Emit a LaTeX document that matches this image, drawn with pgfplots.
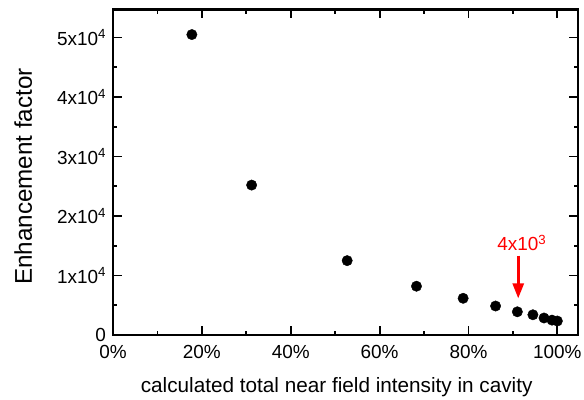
\documentclass[border=0pt]{standalone}
\usepackage{pgfplots}
\pgfplotsset{compat=1.18}
\usepackage{fontspec}
\setmainfont{Liberation Sans}
\usetikzlibrary{arrows.meta}
\begin{document}
\begin{tikzpicture}
\useasboundingbox (-113bp,-65bp) rectangle (471bp,335bp);
\begin{axis}[
  at={(0,0)}, anchor=origin,
  scale only axis, width=465bp, height=325.7bp,
  xmin=0, xmax=104.65, ymin=0, ymax=54750,
  axis line style={line width=2.5bp},
  tick style={line width=1.8bp, black},
  major tick length=9bp, minor tick length=4.5bp,
  tick align=inside,
  xtick={0,20,40,60,80,100},
  xticklabels={0\%,20\%,40\%,60\%,80\%,100\%},
  minor xtick={10,30,50,70,90},
  ytick={0,10000,20000,30000,40000,50000},
  yticklabels={0,1x10\textsuperscript{4},2x10\textsuperscript{4},3x10\textsuperscript{4},4x10\textsuperscript{4},5x10\textsuperscript{4}},
  minor ytick={5000,15000,25000,35000,45000},
  scaled y ticks=false,
  ticklabel style={font=\fontsize{19}{22}\selectfont},
  yticklabel style={xshift=-3.5bp},
  xticklabel style={yshift=-7bp},
  xlabel={calculated total near field intensity in cavity},
  ylabel={Enhancement factor},
  xlabel style={at={(axis description cs:0.481,-0.1780)}, anchor=base, font=\fontsize{20.8}{24}\selectfont},
  ylabel style={at={(axis description cs:-0.1742,0.4866)}, anchor=base, font=\fontsize{24.3}{28}\selectfont},
]
\addplot[only marks, mark=*, mark size=5.2bp, black] coordinates {
(17.75,50500) (31.2,25200) (52.7,12500) (68.3,8200) (78.8,6170)
(86.1,4870) (91.0,3900) (94.5,3400) (97.0,2860) (98.8,2500) (100,2350)
};
\draw[red, line width=2.7bp, -{Triangle[width=11bp,length=15bp]}] (axis cs:91.2,13330) -- (axis cs:91.2,6150);
\node[red, anchor=base, font=\fontsize{19}{22}\selectfont, inner sep=0pt] at (axis cs:92.0,14170) {4x10\textsuperscript{3}};
\end{axis}
\end{tikzpicture}
\end{document}
